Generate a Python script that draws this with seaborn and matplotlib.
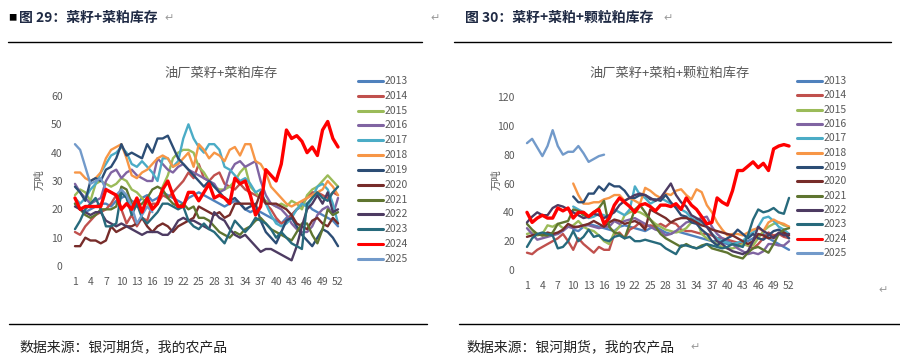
import numpy as np
import pandas as pd
import matplotlib
matplotlib.use("Agg")
import matplotlib.pyplot as plt
import seaborn as sns

sns.set_theme(style="white")
plt.rcParams['font.family'] = ['Noto Sans CJK SC', 'DejaVu Sans']

years = ["2013", "2014", "2015", "2016", "2017", "2018", "2019", "2020",
         "2021", "2022", "2023", "2024", "2025"]
colors = ["#4F81BD", "#C0504D", "#9BBB59", "#8064A2", "#4BACC6", "#F79646",
          "#2C4D75", "#772C2A", "#5F7530", "#4D3B62", "#276A7C", "#FF0000", "#729ACA"]
weeks = list(range(1, 53))
xtick_labels = list(range(1, 53, 3))

# ---------------- Left panel: 油厂菜籽+菜粕库存 (万吨), starting week for each series ----------------
left_start = {y: 1 for y in years}
left_2013 = [22, 20, 19, 20, 21, 22, 22, 21, 23, 24, 25, 23, 22, 24, 25, 23, 24, 26, 25, 24, 23, 22, 24, 25, 26, 25,
             24, 23, 22, 21, 22, 23, 22, 20, 19, 20, 19, 18, 17, 16, 15, 17, 18, 20, 21, 22, 20, 19, 18, 17, 16, 14]
left_2014 = [12, 11, 14, 16, 18, 19, 20, 22, 25, 20, 15, 18, 14, 17, 16, 22, 22, 25, 24, 26, 28, 30, 33, 31, 36, 31,
             30, 32, 33, 29, 28, 27, 29, 27, 26, 25, 24, 22, 20, 17, 15, 16, 18, 20, 22, 24, 26, 26, 25, 24, 26, 25]
left_2015 = [25, 27, 26, 23, 29, 30, 29, 28, 29, 31, 30, 27, 26, 24, 22, 20, 22, 28, 32, 38, 40, 41, 41, 40, 35, 33,
             30, 28, 27, 27, 28, 30, 33, 35, 28, 26, 24, 23, 22, 21, 22, 21, 23, 22, 20, 25, 27, 28, 30, 32, 30, 28]
left_2016 = [29, 26, 24, 22, 23, 24, 30, 33, 34, 31, 33, 34, 32, 31, 30, 30, 38, 36, 34, 33, 35, 36, 34, 33, 32, 31,
             30, 29, 26, 27, 33, 36, 37, 35, 36, 37, 30, 25, 22, 21, 20, 18, 15, 13, 12, 12, 14, 18, 20, 21, 18, 24]
left_2017 = [24, 22, 24, 27, 29, 33, 36, 39, 40, 42, 40, 36, 35, 37, 35, 33, 30, 38, 38, 35, 37, 45, 50, 45, 42, 40,
             43, 43, 41, 35, 34, 32, 30, 31, 29, 26, 27, 22, 18, 15, 14, 15, 17, 20, 22, 21, 24, 28, 29, 27, 22, 15]
left_2018 = [33, 33, 31, 30, 31, 33, 38, 41, 42, 43, 38, 32, 31, 33, 34, 36, 38, 39, 38, 35, 36, 38, 40, 35, 43, 41,
             38, 40, 39, 37, 41, 42, 39, 43, 43, 37, 36, 33, 28, 26, 24, 22, 21, 22, 23, 24, 25, 26, 27, 30, 28, 25]
left_2019 = [28, 26, 23, 30, 31, 30, 34, 35, 38, 43, 39, 40, 39, 38, 43, 40, 45, 45, 46, 42, 38, 36, 34, 32, 30, 28,
             30, 28, 26, 24, 23, 24, 22, 20, 21, 22, 16, 12, 10, 8, 12, 16, 17, 14, 11, 9, 7, 10, 13, 12, 10, 7]
left_2020 = [7, 7, 10, 9, 9, 8, 9, 14, 12, 13, 14, 14, 15, 17, 14, 12, 14, 15, 14, 12, 14, 15, 16, 17, 21, 20,
             19, 18, 19, 17, 18, 22, 22, 22, 22, 21, 26, 22, 22, 22, 21, 20, 18, 15, 14, 13, 16, 17, 15, 14, 17, 15]
left_2021 = [22, 20, 18, 17, 18, 20, 20, 20, 21, 28, 27, 22, 21, 22, 24, 27, 28, 27, 24, 22, 21, 22, 20, 21, 17, 17,
             16, 14, 12, 11, 10, 12, 11, 13, 14, 16, 17, 15, 13, 12, 11, 10, 9, 12, 15, 15, 11, 8, 13, 20, 18, 19]
left_2022 = [21, 20, 19, 18, 19, 19, 16, 15, 14, 15, 14, 13, 12, 11, 12, 12, 12, 11, 11, 13, 16, 17, 16, 16, 15, 14,
             13, 19, 17, 16, 13, 11, 10, 11, 9, 7, 5, 6, 6, 5, 4, 3, 2, 7, 14, 20, 22, 25, 22, 26, 19, 20]
left_2023 = [13, 16, 20, 22, 24, 20, 14, 14, 15, 26, 24, 18, 22, 17, 15, 17, 19, 22, 22, 21, 20, 21, 16, 14, 13, 15,
             13, 12, 10, 8, 12, 16, 14, 12, 14, 17, 16, 15, 13, 10, 12, 10, 8, 7, 6, 22, 24, 26, 24, 23, 26, 28]
left_2024 = [24, 20, 21, 21, 21, 21, 27, 26, 25, 20, 22, 20, 24, 19, 24, 20, 22, 27, 30, 25, 21, 21, 26, 26, 23, 26,
             29, 24, 25, 24, 22, 31, 29, 30, 25, 18, 21, 34, 32, 30, 36, 48, 45, 46, 44, 40, 42, 39, 48, 51, 45, 42]
left_2025 = [43, 41, 35, 29, 30, 31, 27, 26, 25, 27, 25, 21, 15, 18, 21, 19]

# ---------------- Right panel: 油厂菜籽+菜粕+颗粒粕库存 (万吨) ----------------
right_start = {y: 1 for y in years}
right_start.update({"2013": 10, "2017": 10, "2018": 10, "2019": 10})
right_2013 = [28, 27, 30, 32, 31, 30, 29, 28, 27, 30, 31, 30, 29, 28, 27, 29, 30, 28, 26, 25, 27, 26,
              25, 24, 23, 22, 21, 20, 20, 19, 18, 18, 17, 19, 20, 22, 24, 25, 22, 20, 18, 16, 14]
right_2014 = [12, 11, 14, 16, 18, 20, 22, 25, 20, 14, 22, 18, 15, 12, 16, 14, 14, 25, 26, 22, 28, 30, 33, 30, 31, 30,
              32, 30, 33, 32, 28, 27, 27, 26, 25, 25, 24, 22, 22, 21, 20, 19, 18, 17, 15, 18, 22, 26, 24, 25, 23, 22]
right_2015 = [25, 26, 24, 25, 31, 30, 32, 29, 30, 31, 34, 30, 28, 27, 24, 20, 18, 26, 30, 38, 40, 41, 40, 38, 35, 32,
              30, 28, 27, 26, 27, 29, 33, 35, 25, 22, 20, 18, 16, 15, 15, 16, 18, 17, 17, 22, 27, 30, 32, 33, 31, 30]
right_2016 = [29, 25, 21, 22, 23, 24, 25, 27, 30, 29, 30, 31, 31, 30, 29, 30, 30, 34, 32, 34, 35, 36, 34, 32, 30, 28,
              27, 24, 25, 27, 30, 33, 34, 35, 36, 37, 30, 25, 22, 20, 18, 15, 13, 11, 12, 11, 13, 18, 18, 17, 17, 20]
right_2017 = [44, 42, 40, 36, 37, 39, 38, 35, 42, 40, 38, 42, 58, 52, 50, 46, 48, 50, 48, 46, 44, 42,
              40, 36, 34, 33, 30, 25, 22, 20, 19, 18, 19, 20, 24, 26, 30, 36, 37, 34, 30, 28, 25]
right_2018 = [60, 52, 46, 46, 47, 47, 49, 50, 52, 52, 48, 50, 48, 46, 57, 55, 52, 50, 53, 52, 55, 56,
              52, 49, 56, 54, 45, 40, 33, 28, 24, 25, 25, 24, 26, 28, 29, 27, 33, 35, 33, 32, 30]
right_2019 = [51, 47, 47, 53, 53, 58, 55, 60, 58, 58, 55, 50, 50, 52, 52, 49, 49, 48, 52, 47, 43, 38,
              37, 33, 32, 28, 25, 20, 17, 20, 22, 24, 28, 25, 22, 25, 22, 21, 24, 27, 28, 26, 22]
right_2020 = [23, 24, 25, 24, 26, 25, 26, 28, 32, 30, 30, 31, 32, 34, 32, 30, 33, 35, 34, 32, 33, 34, 32, 28, 42, 40,
              38, 36, 33, 35, 36, 36, 35, 33, 31, 30, 28, 27, 26, 25, 24, 22, 20, 18, 20, 25, 24, 22, 23, 25, 26, 24]
right_2021 = [32, 28, 25, 24, 24, 26, 32, 33, 34, 42, 41, 38, 37, 40, 43, 48, 30, 26, 25, 22, 32, 42, 45, 40, 35, 30,
              25, 22, 20, 18, 16, 18, 16, 15, 17, 18, 15, 14, 13, 12, 10, 9, 8, 12, 15, 16, 14, 12, 18, 25, 28, 29]
right_2022 = [33, 37, 40, 38, 38, 43, 45, 44, 42, 40, 38, 36, 37, 39, 38, 36, 38, 40, 45, 48, 50, 52, 53, 52, 50, 48,
              50, 55, 60, 52, 47, 44, 38, 36, 34, 30, 25, 20, 18, 15, 13, 12, 11, 13, 20, 30, 27, 25, 22, 26, 24, 25]
right_2023 = [16, 22, 25, 26, 25, 24, 15, 16, 20, 27, 20, 23, 28, 23, 24, 21, 20, 23, 24, 22, 23, 20, 20, 21, 20, 19,
              18, 15, 13, 11, 17, 17, 16, 15, 16, 18, 17, 16, 15, 16, 18, 17, 16, 24, 35, 42, 40, 41, 43, 40, 39, 50]
right_2024 = [40, 33, 36, 38, 36, 36, 43, 41, 43, 36, 40, 40, 37, 40, 42, 32, 36, 45, 50, 47, 44, 40, 45, 46, 44, 41,
              45, 45, 44, 46, 42, 50, 45, 42, 37, 32, 33, 50, 47, 45, 55, 69, 69, 72, 75, 71, 74, 69, 84, 86, 87, 86]
right_2025 = [88, 91, 85, 79, 86, 97, 86, 80, 82, 82, 86, 81, 75, 77, 79, 80]

left_series = [left_2013, left_2014, left_2015, left_2016, left_2017, left_2018, left_2019,
               left_2020, left_2021, left_2022, left_2023, left_2024, left_2025]
right_series = [right_2013, right_2014, right_2015, right_2016, right_2017, right_2018, right_2019,
                right_2020, right_2021, right_2022, right_2023, right_2024, right_2025]


def to_long(series, starts):
    rows = []
    for y, vals in zip(years, series):
        s = starts[y]
        for i, v in enumerate(vals):
            rows.append({"year": y, "week": s + i, "value": v})
    return pd.DataFrame(rows)


df_left = to_long(left_series, left_start)
df_right = to_long(right_series, right_start)
palette = dict(zip(years, colors))

fig = plt.figure(figsize=(9, 3.62), dpi=100)
W, H = 900, 362


def fx(px):
    return px / W


def fy(py):
    return 1 - py / H


gray = "#595959"


def draw_panel(ax, df, ymax, ystep, title, tx, legend_x, legend_y0, legend_gap):
    handles = []
    for y in years:
        sub = df[df["year"] == y]
        lw = 2.4 if y == "2024" else 1.7
        sns.lineplot(data=sub, x="week", y="value", color=palette[y], linewidth=lw,
                     ax=ax, legend=False, zorder=3 if y == "2024" else 2)
        handles.append(ax.lines[-1])
    ax.set_xlim(0.5, 52.5)
    ax.set_ylim(0, ymax)
    ax.set_xticks(xtick_labels)
    ax.set_xticklabels([str(v) for v in xtick_labels])
    ax.set_yticks(np.arange(0, ymax + 1, ystep))
    ax.tick_params(axis="both", colors=gray, labelsize=7.5, length=0)
    ax.tick_params(axis="y", pad=7)
    ax.tick_params(axis="x", pad=8)
    ax.set_xlabel("")
    ax.set_ylabel("")
    for sp in ax.spines.values():
        sp.set_visible(False)
    ax.grid(False)
    fig.text(fx(tx), fy(73), title, ha="center", va="center", fontsize=9.5, color=gray)
    for i, (y, h) in enumerate(zip(years, handles)):
        yy = legend_y0 + i * legend_gap
        fig.add_artist(plt.Line2D([fx(legend_x), fx(legend_x + 25)], [fy(yy), fy(yy)],
                                  color=palette[y], linewidth=2.2, transform=fig.transFigure))
        fig.text(fx(legend_x + 27), fy(yy), y, ha="left", va="center", fontsize=7.5, color=gray)


axL = fig.add_axes([fx(72.4), fy(266), fx(340.6 - 72.4), (266 - 96) / H])
draw_panel(axL, df_left, 60, 10, "油厂菜籽+菜粕库存", 221, 358, 81, 14.83)
fig.text(fx(40), fy(180), "万吨", rotation=90, ha="center", va="center", fontsize=7.5, color=gray)

axR = fig.add_axes([fx(524.4), fy(270), fx(791.6 - 524.4), (270 - 97) / H])
draw_panel(axR, df_right, 120, 20, "油厂菜籽+菜粕+颗粒粕库存", 670, 797, 81, 14.33)
fig.text(fx(497), fy(180), "万吨", rotation=90, ha="center", va="center", fontsize=7.5, color=gray)

# Headers
navy = "#1F2A44"
fig.text(fx(8), fy(18), "■", ha="left", va="center", fontsize=6, color="black")
fig.text(fx(19), fy(18), "图 29：菜籽+菜粕库存", ha="left", va="center", fontsize=10,
         fontweight="bold", color=navy)
fig.text(fx(164), fy(18), "↵", ha="left", va="center", fontsize=8, color="#9a9a9a",
         family=["DejaVu Sans"])
fig.text(fx(430), fy(18), "↵", ha="left", va="center", fontsize=8, color="#9a9a9a",
         family=["DejaVu Sans"])
fig.text(fx(465), fy(18), "图 30：菜籽+菜粕+颗粒粕库存", ha="left", va="center", fontsize=10,
         fontweight="bold", color=navy)
fig.text(fx(663), fy(18), "↵", ha="left", va="center", fontsize=8, color="#9a9a9a",
         family=["DejaVu Sans"])
fig.text(fx(878), fy(290), "↵", ha="left", va="center", fontsize=8, color="#9a9a9a",
         family=["DejaVu Sans"])

# Rules
for x0, x1, yy in [(8, 422, 42), (454, 891, 42), (9, 427, 324), (459, 900, 324)]:
    fig.add_artist(plt.Line2D([fx(x0), fx(x1)], [fy(yy), fy(yy)], color="black",
                              linewidth=1.0, transform=fig.transFigure))

# Sources
fig.text(fx(19), fy(347), "数据来源：银河期货，我的农产品", ha="left", va="center",
         fontsize=10, color="#222222")
fig.text(fx(466), fy(347), "数据来源：银河期货，我的农产品", ha="left", va="center",
         fontsize=10, color="#222222")
fig.text(fx(690), fy(347), "↵", ha="left", va="center", fontsize=8, color="#9a9a9a",
         family=["DejaVu Sans"])

fig.savefig("out.png", dpi=100)
